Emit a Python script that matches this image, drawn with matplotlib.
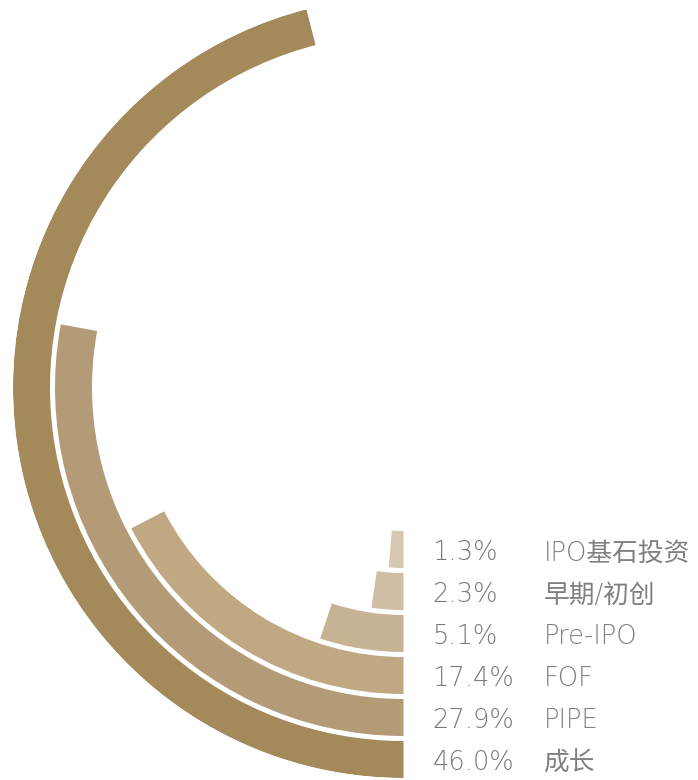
import numpy as np
import matplotlib
matplotlib.use('Agg')
import matplotlib.pyplot as plt

# data (outer ring first)
categories = ['成长', 'PIPE', 'FOF', 'Pre-IPO', '早期/初创', 'IPO基石投资']
shares = [46.0, 27.9, 17.4, 5.1, 2.3, 1.3]
colors = ['#a48a5b', '#b39b77', '#bfa882', '#c7b393', '#cfbea3', '#d7c8b1']

# thin latin face, CJK falls back to Noto
plt.rcParams['font.family'] = ['DejaVu Sans', 'Noto Sans CJK SC']

W, H = 698, 780
fig = plt.figure(figsize=(W / 100, H / 100), dpi=100)

# centre of the rings in pixels (from top-left) and outer radius
cx, cy, R = 403.5, 387.5, 390.5
ax = fig.add_axes([(cx - R) / W, (H - cy - R) / H, 2 * R / W, 2 * R / H],
                  projection='polar')
ax.set_theta_zero_location('S')
ax.set_theta_direction(-1)
ax.set_rlim(0, R)
ax.axis('off')

pitch, thick = 42, 37
outer = [R - i * pitch for i in range(len(shares))]
bottoms = [o - thick for o in outer]
angles = np.array(shares) / 100 * 2 * np.pi

ax.bar(angles / 2, thick, width=angles, bottom=bottoms, color=colors,
       align='center', linewidth=0)

txt = dict(textcoords='offset pixels', ha='left', va='baseline', fontsize=18.5,
           fontweight='light', annotation_clip=False)
for cat, s, b in zip(categories, shares, bottoms):
    rm = b + thick / 2
    ax.annotate(f'{s:.1f}%', xy=(0, rm), xytext=(29, -11), color='#7a7a7a', **txt)
    ax.annotate(cat, xy=(0, rm), xytext=(140, -11), color='#808080', **txt)

fig.savefig('out.png', dpi=100)
